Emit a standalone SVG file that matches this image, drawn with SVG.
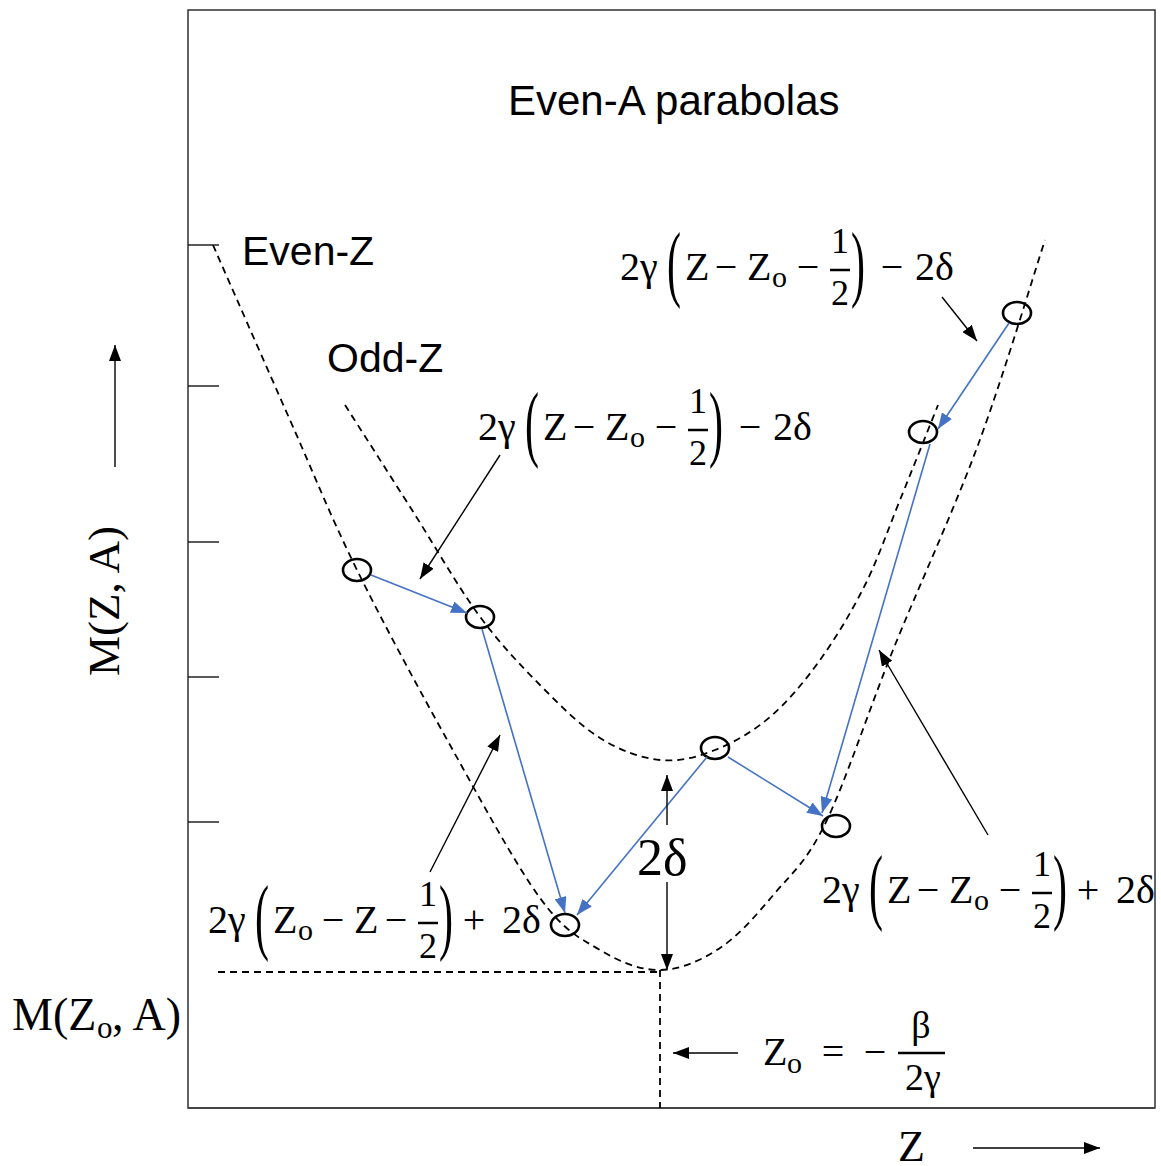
<svg xmlns="http://www.w3.org/2000/svg" width="1161" height="1166" viewBox="0 0 1161 1166">
<style>
.lbl{font-family:"Liberation Sans",Arial,sans-serif;fill:#000}
.m{font-family:"Liberation Serif","Times New Roman",serif;fill:#000}
.par{font-family:"Liberation Serif","Times New Roman",serif;fill:#000;font-size:84px}
.dash{fill:none;stroke:#000;stroke-width:1.8;stroke-dasharray:7 5}
.blue{stroke:#4472C4;stroke-width:1.6;fill:none;marker-end:url(#ab)}
.blk{stroke:#000;stroke-width:1.4;fill:none;marker-end:url(#ak)}
.node{fill:none;stroke:#000;stroke-width:2.6}
.tick{stroke:#000;stroke-width:1.3}
</style>
<defs>
<marker id="ab" markerUnits="userSpaceOnUse" markerWidth="16" markerHeight="12" refX="16" refY="6" orient="auto"><path d="M0,0 L16,6 L0,12 z" fill="#4472C4"/></marker>
<marker id="ak" markerUnits="userSpaceOnUse" markerWidth="16" markerHeight="12" refX="16" refY="6" orient="auto"><path d="M0,0 L16,6 L0,12 z" fill="#000"/></marker>
</defs>
<rect width="1161" height="1166" fill="#fff"/>
<g id="frame">
<rect x="188" y="10" width="967" height="1098" fill="none" stroke="#222" stroke-width="1.4"/>
<line x1="188" y1="1108" x2="1155" y2="1108" stroke="#444" stroke-width="2"/>
<line class="tick" x1="188" y1="245" x2="219" y2="245"/>
<line class="tick" x1="188" y1="386" x2="219" y2="386"/>
<line class="tick" x1="188" y1="542" x2="219" y2="542"/>
<line class="tick" x1="188" y1="677" x2="219" y2="677"/>
<line class="tick" x1="188" y1="822" x2="219" y2="822"/>
</g>
<g id="parabolas">
<path id="even-z" class="dash" d="M213,245 C225.8,274.2 266,365.8 290,420 C314,474.2 330.3,515.8 357,570 C383.7,624.2 419.5,690.3 450,745 C480.5,799.7 515,863.8 540,898 C565,932.2 580,938 600,950 C620,962 640,970.3 660,970 C680,969.7 700.8,960.8 720,948 C739.2,935.2 757.3,914 775,893 C792.7,872 806.3,862.5 826,822 C845.7,781.5 867.7,712.8 893,650 C918.3,587.2 952.7,513.3 978,445 C1003.3,376.7 1033.8,274.2 1045,240"/>
<path id="odd-z" class="dash" d="M345,405 C356.2,422.5 389.8,475.2 412,510 C434.2,544.8 456.7,584.8 478,614 C499.3,643.2 519.7,664.3 540,685 C560.3,705.7 580,725.5 600,738 C620,750.5 640.8,758 660,760 C679.2,762 696.7,757.2 715,750 C733.3,742.8 752.5,732 770,717 C787.5,702 804.2,682 820,660 C835.8,638 851.7,611.7 865,585 C878.3,558.3 887.8,530 900,500 C912.2,470 931.7,420.8 938,405"/>
<line class="dash" x1="218" y1="972" x2="660" y2="972"/>
<line class="dash" x1="660" y1="970" x2="660" y2="1108"/>
</g>
<g id="nodes">
<g id="n1"><ellipse class="node" cx="357" cy="570" rx="14" ry="11"/></g>
<g id="n2"><ellipse class="node" cx="480" cy="617" rx="14" ry="11"/></g>
<g id="n3"><ellipse class="node" cx="565" cy="925" rx="14" ry="11"/></g>
<g id="n4"><ellipse class="node" cx="715" cy="748" rx="14" ry="11"/></g>
<g id="n5"><ellipse class="node" cx="836" cy="826" rx="14" ry="11"/></g>
<g id="n6"><ellipse class="node" cx="923" cy="432" rx="14" ry="11"/></g>
<g id="n7"><ellipse class="node" cx="1017" cy="313" rx="14" ry="11"/></g>
</g>
<g id="connectors">
<line class="blue" x1="371" y1="575" x2="467" y2="613"/>
<line class="blue" x1="482" y1="629" x2="565" y2="913"/>
<line class="blue" x1="707" y1="757" x2="577" y2="915"/>
<line class="blue" x1="728" y1="757" x2="823" y2="816"/>
<line class="blue" x1="1009" y1="323" x2="938" y2="429"/>
<line class="blue" x1="930" y1="444" x2="822" y2="813"/>
<line class="blk" x1="500" y1="455" x2="420" y2="579"/>
<line class="blk" x1="942" y1="297" x2="977" y2="341"/>
<line class="blk" x1="430" y1="872" x2="500" y2="735"/>
<line class="blk" x1="988" y1="835" x2="879" y2="650"/>
<line class="blk" x1="667" y1="825" x2="667" y2="775"/>
<line class="blk" x1="667" y1="882" x2="667" y2="970"/>
<line class="blk" x1="738" y1="1053" x2="673" y2="1053"/>
<line class="blk" x1="115" y1="467" x2="115" y2="345"/>
<line class="blk" x1="973" y1="1148" x2="1100" y2="1148"/>
</g>
<g id="texts">
<text class="lbl" x="508" y="115" font-size="42">Even-A parabolas</text>
<text class="lbl" x="242" y="265" font-size="41">Even-Z</text>
<text class="lbl" x="327" y="372" font-size="41">Odd-Z</text>
<text class="m" x="637" y="875" font-size="52">2δ</text>
<text class="m" transform="translate(119,601) rotate(-90)" text-anchor="middle" font-size="45">M(Z, A)</text>
<g id="m-zo">
<text class="m" x="12" y="1030" font-size="46">M(Z</text>
<text class="m" x="97" y="1038" font-size="31">o</text>
<text class="m" x="112" y="1030" font-size="46">, A)</text>
</g>
<text class="m" x="898" y="1161" font-size="44">Z</text>
<g id="zo-def">
<text class="m" x="763" y="1065" font-size="40">Z</text>
<text class="m" x="787" y="1073" font-size="30">o</text>
<text class="m" x="833" y="1065" font-size="40" text-anchor="middle">=</text>
<text class="m" x="875" y="1065" font-size="40" text-anchor="middle">−</text>
<line x1="898" y1="1053" x2="945" y2="1053" stroke="#000" stroke-width="2.5"/>
<text class="m" x="921" y="1038" font-size="38" text-anchor="middle">β</text>
<text class="m" x="923" y="1090" font-size="38" text-anchor="middle">2γ</text>
</g>
<g id="f1" transform="translate(620,280)">
<text class="m" x="0" y="0" font-size="40">2γ</text>
<text class="par" transform="translate(47,11) scale(0.5,1)">(</text>
<text class="m" x="65" y="0" font-size="40">Z</text>
<text class="m" x="106" y="0" font-size="40" text-anchor="middle">−</text>
<text class="m" x="127" y="0" font-size="40">Z</text>
<text class="m" x="152" y="7" font-size="30">o</text>
<text class="m" x="188" y="0" font-size="40" text-anchor="middle">−</text>
<line x1="210" y1="-10" x2="230" y2="-10" stroke="#000" stroke-width="2.5"/>
<text class="m" x="220" y="-27" font-size="36" text-anchor="middle">1</text>
<text class="m" x="220" y="25" font-size="36" text-anchor="middle">2</text>
<text class="par" transform="translate(231,11) scale(0.5,1)">)</text>
<text class="m" x="272" y="0" font-size="40" text-anchor="middle">−</text>
<text class="m" x="295" y="0" font-size="40">2δ</text>
</g>
<g id="f2" transform="translate(478,440)">
<text class="m" x="0" y="0" font-size="40">2γ</text>
<text class="par" transform="translate(47,11) scale(0.5,1)">(</text>
<text class="m" x="65" y="0" font-size="40">Z</text>
<text class="m" x="106" y="0" font-size="40" text-anchor="middle">−</text>
<text class="m" x="127" y="0" font-size="40">Z</text>
<text class="m" x="152" y="7" font-size="30">o</text>
<text class="m" x="188" y="0" font-size="40" text-anchor="middle">−</text>
<line x1="210" y1="-10" x2="230" y2="-10" stroke="#000" stroke-width="2.5"/>
<text class="m" x="220" y="-27" font-size="36" text-anchor="middle">1</text>
<text class="m" x="220" y="25" font-size="36" text-anchor="middle">2</text>
<text class="par" transform="translate(231,11) scale(0.5,1)">)</text>
<text class="m" x="272" y="0" font-size="40" text-anchor="middle">−</text>
<text class="m" x="295" y="0" font-size="40">2δ</text>
</g>
<g id="f3" transform="translate(208,933)">
<text class="m" x="0" y="0" font-size="40">2γ</text>
<text class="par" transform="translate(47,11) scale(0.5,1)">(</text>
<text class="m" x="65" y="0" font-size="40">Z</text>
<text class="m" x="90" y="7" font-size="30">o</text>
<text class="m" x="125" y="0" font-size="40" text-anchor="middle">−</text>
<text class="m" x="146" y="0" font-size="40">Z</text>
<text class="m" x="188" y="0" font-size="40" text-anchor="middle">−</text>
<line x1="210" y1="-10" x2="230" y2="-10" stroke="#000" stroke-width="2.5"/>
<text class="m" x="220" y="-27" font-size="36" text-anchor="middle">1</text>
<text class="m" x="220" y="25" font-size="36" text-anchor="middle">2</text>
<text class="par" transform="translate(231,11) scale(0.5,1)">)</text>
<text class="m" x="266" y="0" font-size="40" text-anchor="middle">+</text>
<text class="m" x="294" y="0" font-size="40">2δ</text>
</g>
<g id="f4" transform="translate(822,903)">
<text class="m" x="0" y="0" font-size="40">2γ</text>
<text class="par" transform="translate(47,11) scale(0.5,1)">(</text>
<text class="m" x="65" y="0" font-size="40">Z</text>
<text class="m" x="106" y="0" font-size="40" text-anchor="middle">−</text>
<text class="m" x="127" y="0" font-size="40">Z</text>
<text class="m" x="152" y="7" font-size="30">o</text>
<text class="m" x="188" y="0" font-size="40" text-anchor="middle">−</text>
<line x1="210" y1="-10" x2="230" y2="-10" stroke="#000" stroke-width="2.5"/>
<text class="m" x="220" y="-27" font-size="36" text-anchor="middle">1</text>
<text class="m" x="220" y="25" font-size="36" text-anchor="middle">2</text>
<text class="par" transform="translate(231,11) scale(0.5,1)">)</text>
<text class="m" x="266" y="0" font-size="40" text-anchor="middle">+</text>
<text class="m" x="294" y="0" font-size="40">2δ</text>
</g>
</g>
</svg>
